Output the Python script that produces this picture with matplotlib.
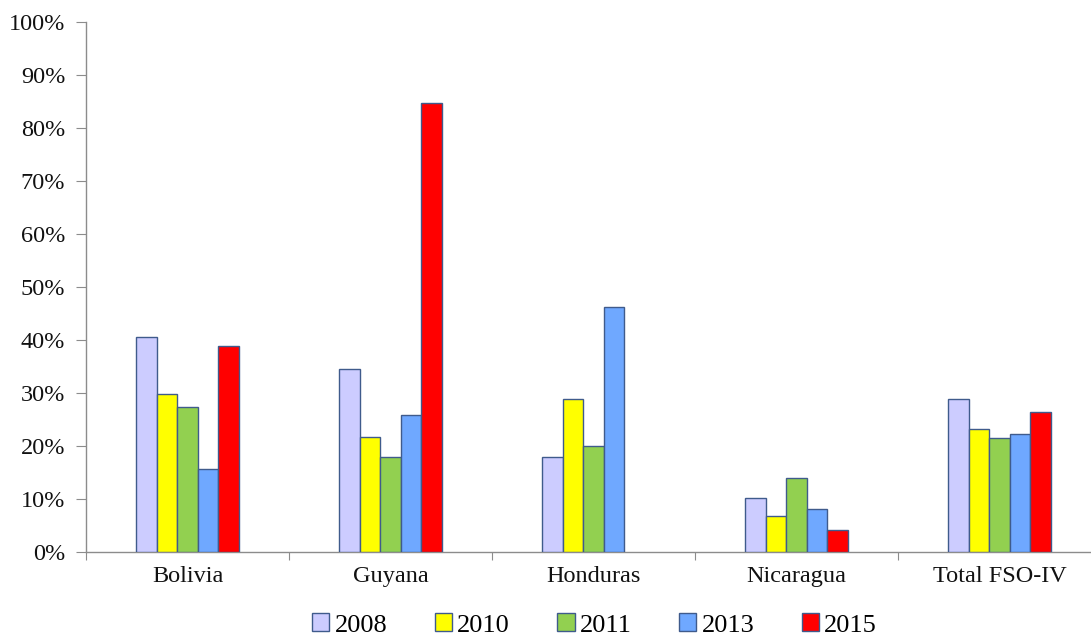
import numpy as np
import matplotlib
matplotlib.use("Agg")
import matplotlib.pyplot as plt
from matplotlib.patches import Patch
from matplotlib.ticker import FixedLocator, FuncFormatter

categories = ["Bolivia", "Guyana", "Honduras", "Nicaragua", "Total FSO-IV"]
years = ["2008", "2010", "2011", "2013", "2015"]

v2008 = [40.6, 34.5, 18.0, 10.1, 28.9]
v2010 = [29.8, 21.7, 28.9, 6.7, 23.2]
v2011 = [27.4, 17.9, 20.0, 14.0, 21.6]
v2013 = [15.7, 25.8, 46.3, 8.1, 22.2]
v2015 = [38.9, 84.8, np.nan, 4.2, 26.4]

series = [v2008, v2010, v2011, v2013, v2015]
colors = ["#ccccff", "#ffff00", "#92d050", "#6fa8ff", "#ff0000"]
edge = "#3f5b8c"

plt.rcParams["font.family"] = ["Liberation Serif", "DejaVu Serif"]

fig = plt.figure(figsize=(10.91, 6.37), dpi=100)
ax = fig.add_axes([86 / 1091, 85 / 637, 1015 / 1091, 530 / 637])

x = np.arange(len(categories))
w = 0.101
for j, (vals, c) in enumerate(zip(series, colors)):
    vals = np.asarray(vals, dtype=float)
    ok = ~np.isnan(vals)
    ax.bar(x[ok] + (j - 2) * w, vals[ok], width=w, color=c,
           edgecolor=edge, linewidth=1.0, zorder=3)

ax.set_xlim(-0.5, len(categories) - 0.5)
ax.set_ylim(0, 100)

ax.yaxis.set_major_locator(FixedLocator(np.arange(0, 101, 10)))
ax.yaxis.set_major_formatter(FuncFormatter(lambda v, p: f"{int(v)}%"))

ax.xaxis.set_major_locator(FixedLocator(np.arange(-0.5, len(categories), 1.0)))
ax.xaxis.set_major_formatter(FuncFormatter(lambda v, p: ""))
ax.xaxis.set_minor_locator(FixedLocator(x))
ax.set_xticklabels(categories, minor=True)

for s in ["top", "right"]:
    ax.spines[s].set_visible(False)
for s in ["left", "bottom"]:
    ax.spines[s].set_color("#8c8c8c")
    ax.spines[s].set_linewidth(1.0)

ax.tick_params(axis="y", direction="out", length=7, color="#8c8c8c",
               labelsize=17.5, pad=8, labelcolor="#111111")
ax.tick_params(axis="x", which="major", direction="out", length=6,
               color="#8c8c8c")
ax.tick_params(axis="x", which="minor", length=0, labelsize=17.5, pad=10,
               labelcolor="#111111")

handles = [Patch(facecolor=c, edgecolor=edge, linewidth=1.0) for c in colors]
fig.legend(handles, years, loc="center", bbox_to_anchor=(0.545, 1 - 625 / 637),
           ncol=5, frameon=False, fontsize=19, handlelength=0.65,
           handleheight=0.65, handletextpad=0.2, columnspacing=1.8,
           borderpad=0.2)

fig.savefig("out.png", dpi=100)
